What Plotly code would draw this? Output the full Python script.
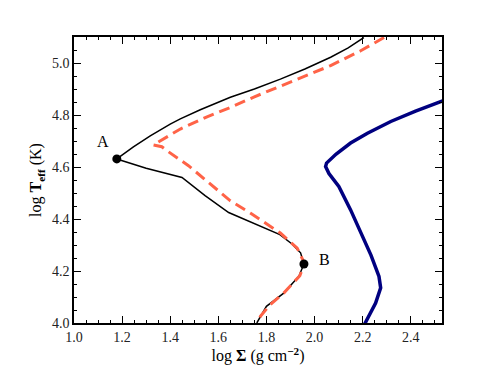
#%% IMPORTS
import plotly.graph_objects as go

#%% DATA
# black solid track, from top right through A and B to the bottom
solid_x = [2.205, 2.14, 2.067, 1.96, 1.858, 1.75, 1.65, 1.525, 1.442, 1.40, 1.317, 1.247, 1.178,
           1.30, 1.449, 1.545, 1.643, 1.733, 1.856, 1.905, 1.942, 1.956,
           1.935, 1.872, 1.80, 1.76]
solid_y = [5.098, 5.058, 5.022, 4.977, 4.938, 4.90, 4.868, 4.82, 4.785, 4.765, 4.72, 4.677, 4.631,
           4.595, 4.56, 4.49, 4.425, 4.39, 4.34, 4.305, 4.27, 4.227,
           4.18, 4.115, 4.064, 4.0]

# dashed coral track
dash_x = [2.289, 2.192, 2.067, 1.96, 1.858, 1.75, 1.65, 1.553, 1.442, 1.38, 1.33,
          1.365, 1.386, 1.476, 1.56, 1.65, 1.733, 1.858, 1.928, 1.948, 1.958,
          1.939, 1.872, 1.815, 1.775, 1.765]
dash_y = [5.098, 5.047, 4.99, 4.95, 4.913, 4.87, 4.829, 4.793, 4.746, 4.712, 4.685,
          4.678, 4.663, 4.605, 4.54, 4.47, 4.423, 4.346, 4.288, 4.25, 4.23,
          4.182, 4.115, 4.07, 4.026, 4.0]

# thick navy track
navy_x = [2.54, 2.42, 2.317, 2.22, 2.15, 2.09, 2.05, 2.046,
          2.06, 2.101, 2.15, 2.192, 2.235, 2.268, 2.275, 2.254, 2.2125, 2.205]
navy_y = [4.857, 4.815, 4.775, 4.73, 4.692, 4.65, 4.615, 4.602,
          4.575, 4.525, 4.435, 4.346, 4.26, 4.179, 4.135, 4.077, 4.006, 3.99]

# labelled points
point_x = [1.178, 1.956]
point_y = [4.631, 4.227]
point_labels = ['A', 'B']
label_x = [1.121, 2.04]
label_y = [4.697, 4.243]

x_ticks = [1.0, 1.2, 1.4, 1.6, 1.8, 2.0, 2.2, 2.4]
y_ticks = [4.0, 4.2, 4.4, 4.6, 4.8, 5.0]

#%% FIGURE
serif = 'Liberation Serif'
fig = go.Figure()

fig.add_trace(go.Scatter(x=navy_x, y=navy_y, mode='lines',
                         line=dict(color='#000080', width=3.5), showlegend=False))
fig.add_trace(go.Scatter(x=solid_x, y=solid_y, mode='lines',
                         line=dict(color='black', width=1.5), showlegend=False))
fig.add_trace(go.Scatter(x=dash_x, y=dash_y, mode='lines',
                         line=dict(color='#ff6347', width=3, dash='11px,6px'),
                         showlegend=False))
fig.add_trace(go.Scatter(x=point_x, y=point_y, mode='markers',
                         marker=dict(color='black', size=9), showlegend=False))

for lx, ly, t in zip(label_x, label_y, point_labels):
    fig.add_annotation(x=lx, y=ly, text=t, showarrow=False,
                       font=dict(family=serif, size=16, color='black'))

axis_style = dict(showline=True, linecolor='black', linewidth=1.5, mirror='allticks',
                  ticks='inside', ticklen=7, tickwidth=1, tickcolor='black',
                  showgrid=False, zeroline=False, automargin=False,
                  tickfont=dict(family=serif, size=14, color='#222'),
                  minor=dict(ticks='inside', ticklen=3.5, tickwidth=1,
                             tickcolor='black', dtick=0.05, showgrid=False))

fig.update_xaxes(range=[1.0, 2.53], tickvals=x_ticks, tickformat='.1f',
                 title=dict(text='log <b>Σ</b> (g cm<sup><b>−2</b></sup>)',
                            font=dict(family=serif, size=16, color='black'),
                            standoff=2),
                 **axis_style)
fig.update_yaxes(range=[4.0, 5.1], tickvals=y_ticks, tickformat='.1f',
                 title=dict(text='log <b>T<sub>eff</sub></b> (K)',
                            font=dict(family=serif, size=16, color='black'),
                            standoff=6),
                 **axis_style)

# page body adds an 8px offset, so margins are shifted to compensate
fig.update_layout(width=491, height=368,
                  margin=dict(l=66, r=57, t=29, b=53),
                  plot_bgcolor='white', paper_bgcolor='white')

fig.write_html('out.html')
